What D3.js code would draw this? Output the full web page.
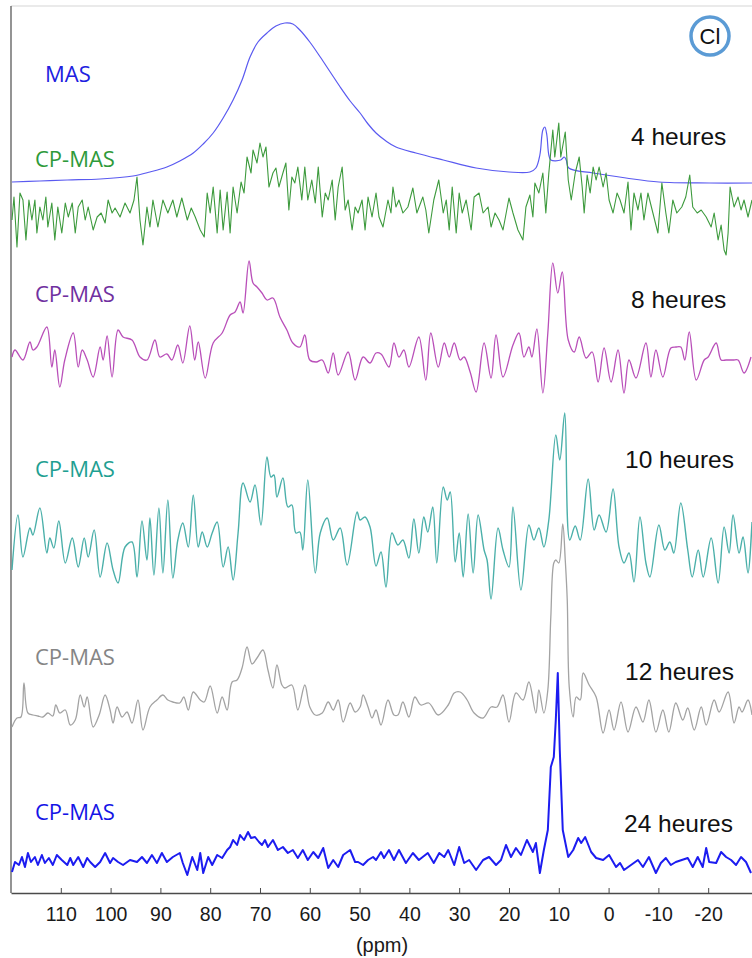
<!DOCTYPE html>
<html><head><meta charset="utf-8">
<script src="https://cdn.jsdelivr.net/npm/d3@7"></script>
<style>body{margin:0;background:#fff}svg{display:block}</style>
</head><body><svg id="c" width="752" height="958"></svg>
<script>
// ---------- DATA (ppm, intensity in arbitrary units) ----------
const tickValues = [110,100,90,80,70,60,50,40,30,20,10,0,-10,-20];
const axisTitle = "(ppm)";
const seqLabels = ["MAS","CP-MAS","CP-MAS","CP-MAS","CP-MAS","CP-MAS"];
const timeLabels = ["4 heures","8 heures","10 heures","12 heures","24 heures"];
const elementLabel = "Cl";

const mas = [[119.8,1],[114.2,2],[108.7,3],[102.1,4],[95.5,7],[92.1,11],[88.7,16],[86.1,22],[83.4,30],[81.4,39],[79.4,50],[77.4,65],[75.4,83],[73.6,103],[72.0,126],[70.4,141],[68.6,150],[66.8,157],[65.0,160],[63.4,159],[62.0,153],[60.0,141],[57.9,126],[55.9,111],[53.9,96],[51.9,82],[49.9,70],[48.3,59],[46.7,50],[44.7,42],[42.7,36],[38.7,30],[33.2,23],[26.6,15],[20.0,11],[15.8,11],[14.6,15],[13.8,28],[13.2,53],[12.8,56],[12.4,48],[12.0,28],[11.6,23],[9.6,23],[8.9,26],[8.5,23],[8.0,15],[3.1,10],[-3.5,5],[-10.1,1],[-20.2,0],[-28.8,0]];

const cp4h = [[119.8,-10],[119.4,13],[118.8,-37],[118.2,17],[117.6,10],[117.0,-30],[116.4,10],[115.8,-10],[115.2,10],[114.8,-23],[114.2,3],[113.6,-10],[113.0,13],[112.6,-17],[111.8,7],[111.2,-30],[110.6,3],[109.8,-23],[109.1,7],[108.5,-7],[107.7,7],[107.1,-23],[106.5,3],[105.7,10],[105.1,-10],[104.5,3],[103.5,-20],[102.7,-7],[101.9,-3],[101.1,-13],[100.5,10],[99.7,-3],[99.1,2],[98.1,-7],[97.1,7],[96.1,-3],[95.3,10],[94.7,33],[94.1,-10],[93.5,-35],[92.7,3],[92.1,-17],[91.5,10],[90.5,-17],[89.5,10],[88.5,-3],[87.5,10],[86.7,-7],[85.7,12],[84.6,-10],[83.8,2],[83.0,-7],[82.0,-20],[81.2,-27],[80.6,17],[80.0,-3],[79.4,23],[78.6,-23],[78.0,20],[77.4,-20],[76.6,18],[76.0,-23],[75.4,23],[74.6,-3],[73.8,28],[73.2,17],[72.6,53],[71.8,37],[71.4,60],[70.6,47],[70.0,67],[69.4,53],[68.8,63],[68.2,23],[67.4,37],[66.8,42],[66.2,23],[65.4,37],[64.8,47],[64.2,0],[63.6,33],[63.0,27],[62.4,43],[61.6,10],[61.0,43],[60.4,10],[59.6,30],[58.9,7],[58.3,43],[57.5,-7],[56.9,17],[56.3,10],[55.5,30],[54.9,-10],[54.3,23],[53.5,43],[52.9,0],[52.3,10],[51.5,-20],[50.9,3],[50.3,-3],[49.5,10],[48.9,-20],[48.3,13],[47.5,-7],[46.7,17],[46.1,-7],[45.3,-17],[44.3,10],[43.7,-3],[43.3,23],[42.7,3],[42.1,10],[41.3,-3],[40.3,3],[39.3,22],[38.5,-3],[37.3,13],[36.7,0],[36.1,-23],[35.1,10],[34.1,30],[33.2,-3],[32.6,10],[32.0,-20],[31.4,23],[30.6,-23],[30.0,17],[29.4,-3],[28.6,10],[27.6,-20],[27.0,13],[26.0,17],[25.2,-3],[24.2,3],[23.6,-17],[22.8,-3],[22.0,-10],[21.2,-20],[20.0,12],[19.2,-3],[18.2,-20],[17.2,-30],[16.6,3],[15.8,15],[15.2,-7],[14.8,27],[14.0,17],[13.2,37],[12.6,-3],[12.0,37],[11.2,80],[10.8,53],[10.0,87],[9.6,53],[8.7,78],[8.1,30],[7.5,10],[6.7,37],[5.9,53],[5.3,23],[4.9,-3],[4.3,35],[3.7,17],[3.1,43],[2.5,30],[1.9,43],[1.1,23],[0.5,37],[-0.1,10],[-0.9,-3],[-1.7,17],[-2.3,10],[-3.1,-3],[-3.9,28],[-4.5,-20],[-5.1,17],[-5.9,0],[-6.5,17],[-7.1,-10],[-7.9,17],[-8.9,-3],[-9.9,-23],[-10.7,27],[-11.5,-3],[-12.1,-23],[-12.9,10],[-13.7,-3],[-14.7,3],[-15.5,13],[-16.3,35],[-16.9,3],[-17.8,-3],[-18.6,0],[-19.6,-7],[-20.6,-17],[-21.2,-3],[-22.0,-30],[-22.6,-15],[-23.2,-40],[-23.6,-45],[-24.0,-23],[-24.4,23],[-25.2,3],[-26.0,13],[-26.6,0],[-27.2,10],[-28.0,-7],[-28.8,10]];

const cp8h = [[119.8,0],[119.2,7],[117.6,-3],[116.2,15],[115.6,7],[114.8,10],[112.8,30],[111.8,-10],[111.2,7],[110.2,-30],[109.2,-3],[107.5,24],[106.5,-10],[105.7,7],[104.7,-3],[103.5,-20],[102.1,10],[101.5,-3],[100.7,21],[99.7,-20],[98.5,27],[97.5,20],[95.7,17],[94.1,0],[92.7,-3],[91.1,17],[90.1,0],[88.7,3],[87.7,-3],[86.5,12],[85.5,-6],[84.1,31],[83.1,-3],[82.4,15],[81.0,-21],[79.4,14],[77.6,24],[76.0,42],[75.0,45],[74.0,55],[73.4,44],[72.2,96],[71.4,74],[70.6,70],[69.6,64],[68.6,57],[67.4,59],[66.0,40],[64.6,27],[63.4,14],[62.0,10],[61.0,22],[60.0,-3],[58.7,-5],[57.5,-3],[56.3,-16],[55.3,4],[54.3,-18],[52.3,5],[50.9,-23],[49.3,0],[47.9,-6],[46.7,4],[45.7,3],[44.1,-10],[43.1,14],[42.1,0],[41.1,7],[40.1,-10],[38.1,20],[36.7,-23],[35.7,24],[34.2,-10],[33.0,14],[32.0,0],[31.0,14],[29.8,-3],[29.0,0],[27.8,-15],[26.6,-35],[25.0,14],[23.6,-21],[22.6,22],[21.2,-20],[19.2,12],[18.0,24],[17.0,0],[16.0,10],[15.4,0],[14.4,28],[13.2,-36],[12.2,24],[11.2,94],[10.2,64],[9.3,85],[8.1,17],[6.9,5],[5.9,20],[4.5,-1],[3.3,5],[2.1,-25],[0.9,9],[-0.5,-25],[-1.9,7],[-3.1,-36],[-4.1,-3],[-5.5,-21],[-7.5,14],[-8.5,-20],[-9.5,7],[-10.9,-20],[-12.5,9],[-13.5,10],[-14.5,10],[-15.3,-3],[-16.2,25],[-17.6,-23],[-19.2,-3],[-20.0,0],[-21.6,14],[-22.6,-3],[-23.6,-3],[-25.0,-3],[-26.0,-3],[-27.2,-16],[-28.6,0]];

const cp10h = [[119.8,-25],[118.6,30],[117.6,-12],[116.2,17],[115.6,10],[114.2,37],[112.8,-8],[112.2,7],[111.4,-3],[110.4,24],[109.1,-18],[107.7,7],[106.5,-22],[105.3,7],[104.5,-12],[103.3,15],[102.1,-32],[100.7,2],[99.5,-25],[98.5,-38],[97.1,-2],[95.7,3],[94.7,-32],[93.7,24],[92.7,-15],[92.1,27],[91.3,-30],[90.3,37],[89.5,-28],[88.5,45],[87.5,-33],[86.5,5],[85.5,22],[84.4,-2],[83.4,50],[82.4,-2],[81.6,13],[80.6,-2],[79.6,12],[78.6,23],[77.4,-22],[76.4,-2],[75.4,-35],[74.4,12],[73.4,62],[72.0,43],[71.0,60],[69.8,20],[68.6,88],[67.8,68],[67.2,70],[66.6,48],[65.4,67],[64.4,38],[63.6,40],[62.8,12],[62.0,13],[61.4,-5],[60.4,65],[58.9,-28],[57.9,12],[56.5,27],[55.3,5],[53.9,17],[52.5,-20],[50.5,33],[49.9,25],[48.9,28],[47.9,18],[46.7,-21],[45.7,-7],[44.7,-42],[43.5,12],[42.3,0],[41.3,5],[40.1,-13],[39.1,26],[38.1,-8],[37.1,28],[36.3,13],[35.3,38],[34.5,-18],[33.2,58],[32.4,45],[31.8,53],[30.8,-17],[30.0,12],[29.2,-32],[28.2,31],[27.2,-28],[26.2,30],[25.0,-5],[24.4,-15],[23.6,-54],[22.2,17],[21.2,-5],[20.0,-22],[19.2,38],[17.6,-45],[16.0,20],[15.0,5],[14.0,17],[13.0,-2],[12.0,25],[10.6,110],[9.8,85],[8.8,132],[7.8,5],[6.7,19],[5.7,5],[4.1,66],[2.9,15],[1.9,30],[0.5,13],[-0.9,56],[-2.1,-2],[-3.1,-18],[-4.1,-8],[-5.1,-37],[-6.3,28],[-7.5,-18],[-8.3,-32],[-10.1,20],[-11.3,-5],[-12.3,3],[-13.1,-8],[-14.5,42],[-15.9,-5],[-16.8,-32],[-18.0,-5],[-19.0,-32],[-20.6,7],[-22.0,-38],[-23.2,18],[-24.2,-8],[-25.0,30],[-26.2,-8],[-27.0,8],[-28.0,-28],[-28.8,23]];

const cp12h = [[119.8,-15],[118.8,-6],[118.0,-5],[117.4,29],[116.6,-1],[115.6,-3],[114.6,-4],[113.6,-5],[112.6,-1],[111.6,-4],[111.0,7],[110.2,-1],[109.1,2],[108.1,-13],[107.1,-8],[106.1,17],[105.3,5],[104.7,15],[103.5,-15],[102.3,-3],[101.1,17],[100.1,2],[99.5,-11],[98.7,5],[97.7,-5],[96.7,0],[95.7,-11],[94.5,12],[93.5,-18],[92.1,5],[90.7,12],[89.5,17],[88.5,12],[87.5,10],[86.1,9],[85.3,15],[84.4,2],[83.4,20],[82.0,12],[81.2,10],[80.0,26],[78.6,-1],[77.6,15],[76.6,2],[75.6,30],[74.6,32],[73.6,44],[72.6,65],[71.6,48],[70.6,54],[69.4,62],[68.4,42],[67.4,24],[66.6,47],[65.6,27],[65.0,24],[63.6,27],[62.4,2],[61.0,27],[60.0,5],[58.9,-3],[57.5,-1],[56.3,10],[55.3,2],[54.3,12],[53.3,-10],[51.9,9],[50.9,0],[49.9,5],[49.3,17],[48.3,5],[47.5,-6],[46.7,2],[45.7,-13],[44.3,12],[43.1,-3],[42.3,-3],[41.3,10],[40.1,-5],[38.9,15],[37.7,7],[36.1,9],[34.2,-3],[32.2,7],[31.0,19],[29.8,20],[28.4,12],[27.0,-1],[25.2,-6],[23.6,5],[22.4,5],[21.2,17],[20.0,-10],[18.6,19],[17.2,12],[16.0,30],[14.6,-1],[14.0,22],[13.0,-1],[12.2,22],[11.6,95],[11.0,149],[10.6,152],[10.0,149],[9.2,188],[8.7,152],[8.3,112],[7.9,25],[7.1,-5],[6.5,15],[5.7,12],[5.1,39],[3.9,27],[2.5,15],[1.1,-21],[-0.1,2],[-1.1,-18],[-2.5,10],[-3.9,-20],[-5.5,5],[-6.9,-10],[-8.1,12],[-9.5,-20],[-10.9,2],[-12.1,-20],[-13.5,9],[-14.9,-8],[-15.9,4],[-17.2,-18],[-18.6,5],[-19.6,-13],[-21.2,12],[-22.2,0],[-24.0,20],[-25.2,-11],[-26.2,5],[-26.8,0],[-28.0,12],[-28.8,-3]];

const cp24h = [[119.8,-12],[119.2,-2],[118.4,-5],[117.8,3],[117.2,-7],[116.6,7],[116.0,-2],[115.2,3],[114.6,-5],[113.8,5],[113.2,-3],[112.4,2],[111.6,-5],[110.8,5],[109.8,0],[108.7,-5],[108.1,2],[107.5,-5],[106.5,3],[105.5,-7],[104.7,2],[104.1,-2],[103.1,-7],[102.1,-2],[101.1,7],[100.1,-3],[99.5,2],[98.5,-2],[97.5,-5],[96.1,0],[94.7,-2],[93.7,3],[92.7,-3],[91.7,5],[90.7,-3],[89.7,7],[88.7,-2],[87.5,3],[86.1,7],[85.5,-3],[84.6,-15],[83.6,3],[82.6,-10],[82.0,7],[81.4,-13],[80.4,3],[79.6,-5],[78.6,5],[77.6,2],[76.6,10],[76.0,13],[75.4,20],[74.6,15],[74.0,25],[73.2,20],[72.4,28],[71.8,22],[71.0,23],[70.2,18],[69.6,15],[69.0,20],[68.4,13],[67.4,20],[66.4,10],[65.4,13],[64.4,7],[63.4,10],[62.4,2],[61.4,10],[60.4,0],[59.3,8],[58.3,2],[57.3,12],[56.3,-8],[55.3,0],[54.3,-7],[53.3,5],[51.9,10],[50.9,-2],[50.3,-2],[49.3,-5],[48.3,0],[47.3,3],[46.7,0],[45.7,8],[45.1,2],[44.1,10],[43.1,0],[42.1,10],[40.7,-3],[39.3,7],[38.1,0],[36.3,7],[35.1,-3],[34.0,7],[33.0,3],[32.2,10],[31.0,-5],[30.0,13],[29.0,-3],[28.0,0],[26.6,-10],[25.2,0],[24.0,3],[22.6,-5],[21.6,0],[20.6,15],[19.6,3],[18.6,12],[17.6,5],[16.4,20],[15.2,8],[14.6,17],[13.8,-13],[13.0,10],[12.2,30],[11.6,93],[11.0,103],[10.6,140],[10.2,187],[9.8,110],[9.2,30],[8.1,3],[7.1,10],[6.1,22],[5.5,17],[4.7,23],[3.5,8],[2.5,2],[1.1,0],[-0.1,5],[-1.5,-7],[-2.3,-3],[-3.1,-10],[-4.5,-5],[-5.9,0],[-6.9,-7],[-8.1,3],[-9.5,-13],[-10.5,-3],[-11.5,2],[-12.5,-5],[-13.5,-2],[-14.7,0],[-15.9,2],[-16.9,-7],[-17.9,3],[-18.9,-7],[-19.6,12],[-20.2,-2],[-21.6,-3],[-22.6,8],[-23.6,3],[-24.6,0],[-25.6,-5],[-26.6,3],[-27.6,-2],[-28.6,-13]];

// ---------- LAYOUT / STYLE ----------
const W = 752, H = 958;
const plot = {left: 11, right: 752, top: 6, bottom: 893};
const svg = d3.select("#c");

const x = d3.scaleLinear().domain([120, -28.8]).range([plot.left, plot.right]);
const yAmp = d3.scaleLinear().domain([0, 100]).range([0, -100]);

const traces = [
  {data: mas,   base: 183, color: "#5a5af0", width: 1.2, curve: d3.curveCatmullRom.alpha(0.5)},
  {data: cp4h,  base: 210, color: "#3d9a3d", width: 1.1, curve: d3.curveLinear},
  {data: cp8h,  base: 357, color: "#b94fb9", width: 1.3, curve: d3.curveCatmullRom.alpha(0.5)},
  {data: cp10h, base: 545, color: "#4bb0aa", width: 1.4, curve: d3.curveCatmullRom.alpha(0.5)},
  {data: cp12h, base: 712, color: "#a3a3a3", width: 1.3, curve: d3.curveCatmullRom.alpha(0.5)},
  {data: cp24h, base: 860, color: "#1c1cf0", width: 2.0, curve: d3.curveLinear}
];
const seqPos = [
  {x: 45, y: 82,  color: "#2020e0"},
  {x: 35, y: 167, color: "#2e9a3a"},
  {x: 35, y: 302, color: "#7030a0"},
  {x: 35, y: 477, color: "#1f9f92"},
  {x: 35, y: 665, color: "#858585"},
  {x: 35, y: 820, color: "#1414e6"}
];
const timePos = [{x:631,y:145},{x:631,y:308},{x:625,y:468},{x:625,y:680},{x:624,y:832}];

// frame lines
svg.append("line").attr("x1", plot.left).attr("x2", W).attr("y1", plot.top).attr("y2", plot.top)
  .attr("stroke", "#d6d6d6").attr("stroke-width", 1.2);
svg.append("line").attr("x1", plot.left).attr("x2", plot.left).attr("y1", plot.top).attr("y2", plot.bottom)
  .attr("stroke", "#5a5a5a").attr("stroke-width", 1.3);

// traces
traces.forEach(t => {
  const line = d3.line().x(d => x(d[0])).y(d => t.base + yAmp(d[1])).curve(t.curve);
  svg.append("path").datum(t.data).attr("d", line)
    .attr("fill", "none").attr("stroke", t.color).attr("stroke-width", t.width)
    .attr("stroke-linejoin", "round");
});

// sequence labels
svg.selectAll("text.seq").data(seqLabels).join("text").attr("class", "seq")
  .attr("x", (d, i) => seqPos[i].x).attr("y", (d, i) => seqPos[i].y)
  .attr("fill", (d, i) => seqPos[i].color)
  .attr("font-family", "'Open Sans', 'Noto Sans', sans-serif").attr("font-size", 22)
  .text(d => d);

// time labels
svg.selectAll("text.time").data(timeLabels).join("text").attr("class", "time")
  .attr("x", (d, i) => timePos[i].x).attr("y", (d, i) => timePos[i].y)
  .attr("fill", "#111")
  .attr("font-family", "'Liberation Sans', Arial, sans-serif").attr("font-size", 24.5)
  .text(d => d);

// Cl badge
svg.append("circle").attr("cx", 710).attr("cy", 36).attr("r", 19)
  .attr("fill", "#fff").attr("stroke", "#5b9bd5").attr("stroke-width", 3.5);
svg.append("text").attr("x", 710).attr("y", 44).attr("text-anchor", "middle")
  .attr("font-family", "'Liberation Sans', Arial, sans-serif").attr("font-size", 22).attr("fill", "#111")
  .text(elementLabel);

// x axis
const axis = d3.axisBottom(x).tickValues(tickValues).tickSizeInner(-5).tickSizeOuter(0).tickPadding(14)
  .tickFormat(d => String(d));
const gAx = svg.append("g").attr("transform", `translate(0,${plot.bottom})`).call(axis);
gAx.select(".domain").attr("stroke", "#4a4a4a").attr("stroke-width", 1.3);
gAx.selectAll(".tick line").attr("stroke", "#4a4a4a");
gAx.selectAll(".tick text").attr("font-family", "'Liberation Sans', Arial, sans-serif")
  .attr("font-size", 19.5).attr("fill", "#1a1a1a");

svg.append("text").attr("x", 382).attr("y", 952).attr("text-anchor", "middle")
  .attr("font-family", "'Liberation Sans', Arial, sans-serif").attr("font-size", 20).attr("fill", "#1a1a1a")
  .text(axisTitle);
</script></body></html>
